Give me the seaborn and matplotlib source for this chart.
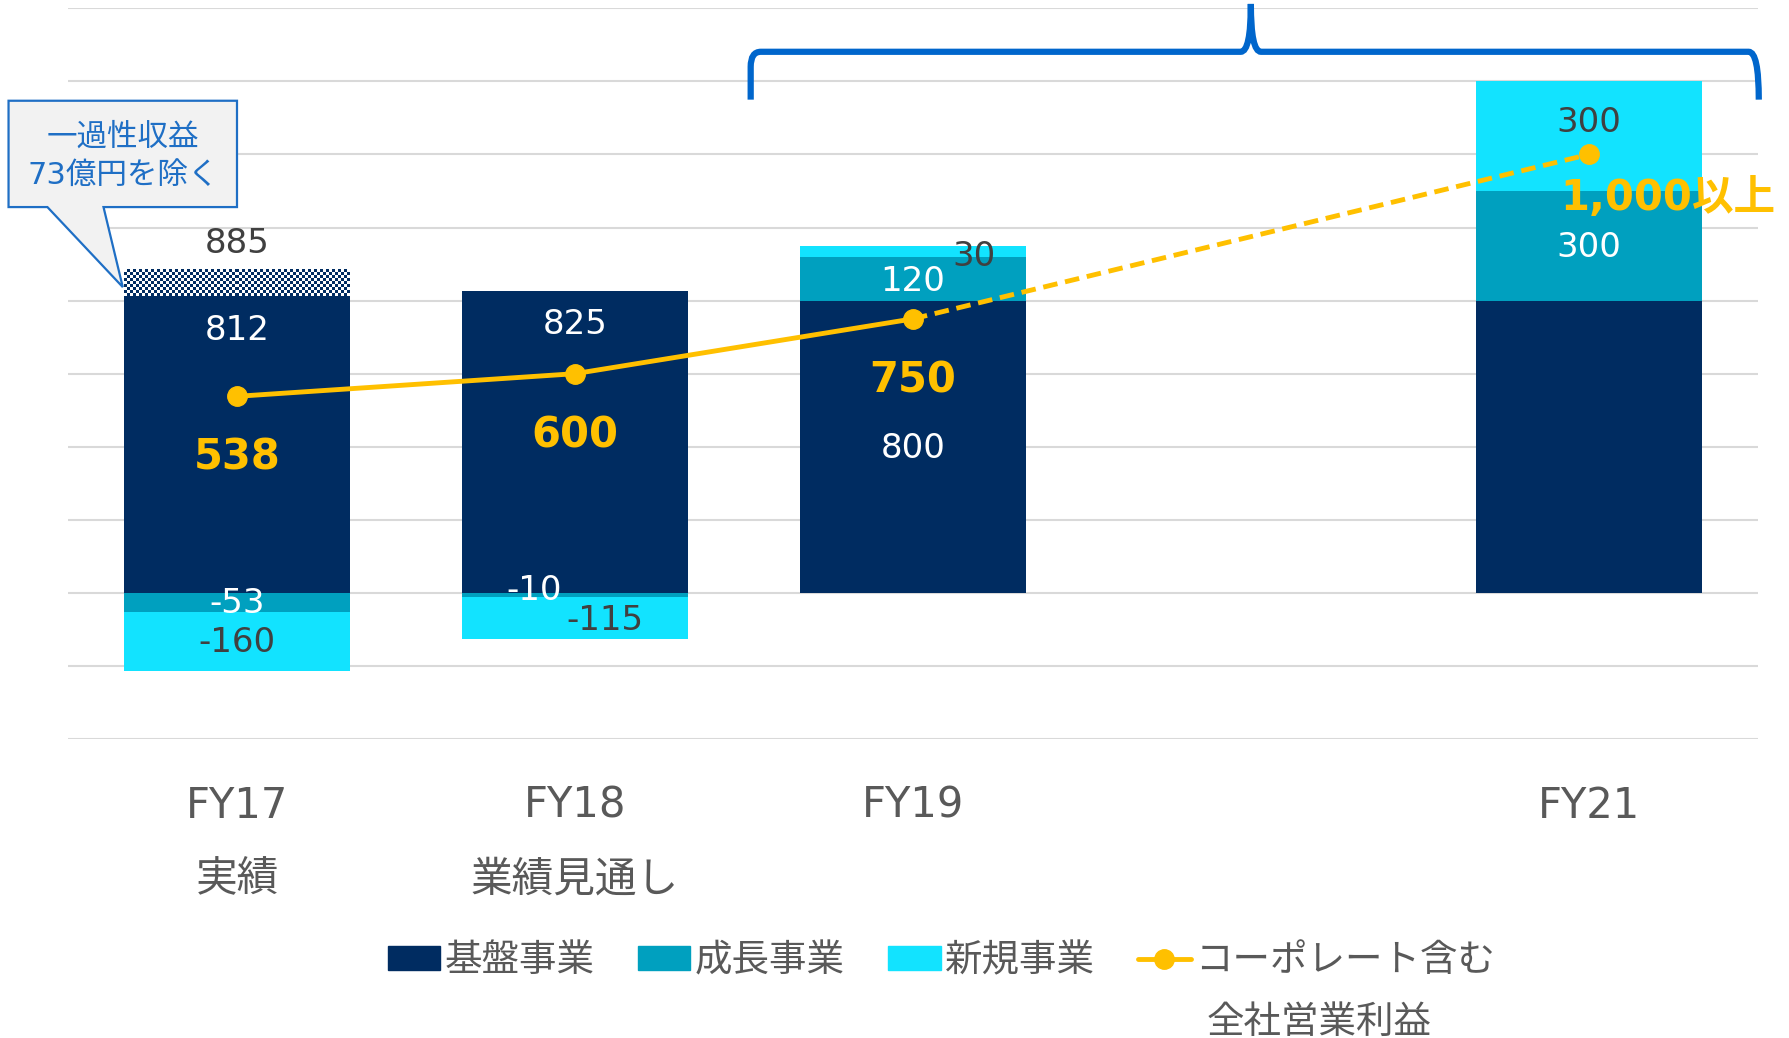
import numpy as np
import matplotlib.pyplot as plt
import seaborn as sns
from matplotlib.patches import Polygon, PathPatch, Patch
from matplotlib.path import Path
from matplotlib.lines import Line2D
from matplotlib.colors import ListedColormap

# ---- data (億円) ----
categories = ["FY17\n実績", "FY18\n業績見通し", "FY19", "", "FY21"]
core = [812, 825, 800, 0, 800]          # 基盤事業
growth = [-53, -10, 120, 0, 300]        # 成長事業
new_biz = [-160, -115, 30, 0, 300]      # 新規事業
one_off = [73, 0, 0, 0, 0]              # 一過性収益 (FY17 885 incl.)
total_profit = [538, 600, 750, np.nan, 1200]
profit_labels = ["538", "600", "750", "", "1,000以上"]
legend_labels = ["基盤事業", "成長事業", "新規事業", "コーポレート含む"]

NAVY = "#002C61"
TEAL = "#00A0BF"
CYAN = "#12E3FF"
GOLD = "#FFC000"
BLUE = "#0066CC"
DARK = "#404040"
GREY_TXT = "#595959"

sns.set_theme(style="white")
plt.rcParams['font.family'] = ['DejaVu Sans', 'Noto Sans CJK JP']

fig = plt.figure(figsize=(17.9, 10.38), dpi=100)
ax = fig.add_axes([0.038, 0.288, 0.944, 0.704])

x = np.arange(len(categories))
width = 0.667

# base layer through seaborn
sns.barplot(x=x, y=core, color=NAVY, width=width, saturation=1, ax=ax,
            native_scale=True, linewidth=0)

# stacked segments (positive up from core, negative down from zero)
pos_top = np.array(core, dtype=float)
neg_bot = np.zeros(len(x))
for vals, col in [(growth, TEAL), (new_biz, CYAN)]:
    bots = []
    for i, v in enumerate(vals):
        if v >= 0:
            b = pos_top[i]
            pos_top[i] += v
        else:
            b = neg_bot[i]
            neg_bot[i] += v
        bots.append(b)
    ax.bar(x, vals, bottom=bots, width=width, color=col, linewidth=0, zorder=2)

# one-off part on FY17: fine checker pattern (~3px cells)
checker_cmap = ListedColormap(["white", NAVY])
for i, v in enumerate(one_off):
    if v <= 0:
        continue
    ny, nx = 9, 75
    pattern = (np.add.outer(np.arange(ny), np.arange(nx)) % 2).astype(float)
    ax.imshow(pattern, cmap=checker_cmap, interpolation="nearest", aspect="auto",
              extent=[x[i] - width / 2, x[i] + width / 2, core[i], core[i] + v],
              zorder=2)

# total operating profit line
ax.plot(x[:3], total_profit[:3], color=GOLD, lw=3.5, zorder=4)
ax.plot([x[2], x[4]], [total_profit[2], total_profit[4]], color=GOLD, lw=3.5,
        ls=(0, (3, 1.6)), zorder=4)
ax.plot(x, total_profit, ls="none", marker="o", ms=14, color=GOLD, zorder=5)

# ---- value labels ----
fs = 24.5
def lab(xi, y, s, color="white", dx=0.0):
    ax.text(xi + dx, y, s, ha="center", va="center", color=color, fontsize=fs, zorder=6)

lab(0, 956, f"{core[0] + one_off[0]}", DARK)
lab(0, 719, f"{core[0]}")
lab(0, -28, f"{growth[0]}")
lab(0, -137, f"{new_biz[0]}", DARK)
lab(1, 734, f"{core[1]}")
lab(1, 6, f"{growth[1]}", dx=-0.12)
lab(1, -75, f"{new_biz[1]}", DARK, dx=0.09)
lab(2, 394, f"{core[2]}")
lab(2, 853, f"{growth[2]}")
lab(2, 922, f"{new_biz[2]}", DARK, dx=0.18)
lab(4, 944, f"{growth[4]}")
lab(4, 1287, f"{new_biz[4]}", DARK)

profit_pos = [(0, 370), (1, 430), (2, 582), None, (4.235, 1082)]
for p, s in zip(profit_pos, profit_labels):
    if p is None:
        continue
    ax.text(p[0], p[1], s, ha="center", va="center", color=GOLD, fontsize=30,
            fontweight="bold", zorder=6, clip_on=False)

# ---- callout ----
callout = Polygon([(-0.676, 1347), (0.0, 1347), (0.0, 1056), (-0.395, 1056),
                   (-0.338, 837), (-0.561, 1056), (-0.676, 1056)],
                  closed=True, facecolor="#F2F2F2", edgecolor="#1F6FC5", lw=1.6,
                  clip_on=False, zorder=7)
ax.add_patch(callout)
ax.text(-0.338, 1196, "一過性収益\n73億円を除く", ha="center", va="center",
        color="#1F6FC5", fontsize=22, linespacing=1.4, zorder=8, clip_on=False)

# ---- bracket ----
bx0, bx1, bxc = 1.520, 4.503, 3.0
verts = [(bx0, 1350), (bx0, 1440), (bx0, 1481), (bx0 + 0.03, 1481),
         (bxc - 0.03, 1481), (bxc, 1481), (bxc, 1612),
         (bxc, 1481), (bxc + 0.03, 1481),
         (bx1 - 0.03, 1481), (bx1, 1481), (bx1, 1350)]
codes = [Path.MOVETO, Path.LINETO, Path.CURVE3, Path.CURVE3,
         Path.LINETO, Path.CURVE3, Path.CURVE3,
         Path.CURVE3, Path.CURVE3,
         Path.LINETO, Path.CURVE3, Path.CURVE3]
ax.add_patch(PathPatch(Path(verts, codes), facecolor="none", edgecolor=BLUE,
                       lw=4.5, clip_on=False, zorder=7))

# ---- axes styling ----
ax.set_xlim(-0.5, 4.5)
ax.set_ylim(-400, 1600)
ax.set_yticks(np.arange(-400, 1601, 200))
ax.set_yticklabels([])
ax.yaxis.grid(True, color="#D9D9D9", lw=1.5)
ax.set_axisbelow(True)
ax.tick_params(axis="y", length=0)
ax.set_xticks(x)
ax.set_xticklabels(categories, fontsize=30, color=GREY_TXT, linespacing=1.95)
ax.tick_params(axis="x", length=0, pad=33)
for sp in ax.spines.values():
    sp.set_visible(False)
ax.set_xlabel("")
ax.set_ylabel("")

# ---- legend ----
handles = [Patch(color=NAVY), Patch(color=TEAL), Patch(color=CYAN),
           Line2D([], [], color=GOLD, lw=3.5, marker="o", ms=14)]
leg = fig.legend(handles, legend_labels, loc="center", bbox_to_anchor=(0.526, 0.074),
                 ncol=4, frameon=False, fontsize=27, handlelength=1.4, handleheight=0.6,
                 handletextpad=0.12, columnspacing=1.15)
for t in leg.get_texts():
    t.set_color(GREY_TXT)
fig.text(0.737, 0.014, "全社営業利益", ha="center", va="center", fontsize=27, color=GREY_TXT)

fig.savefig("out.png", dpi=100)
